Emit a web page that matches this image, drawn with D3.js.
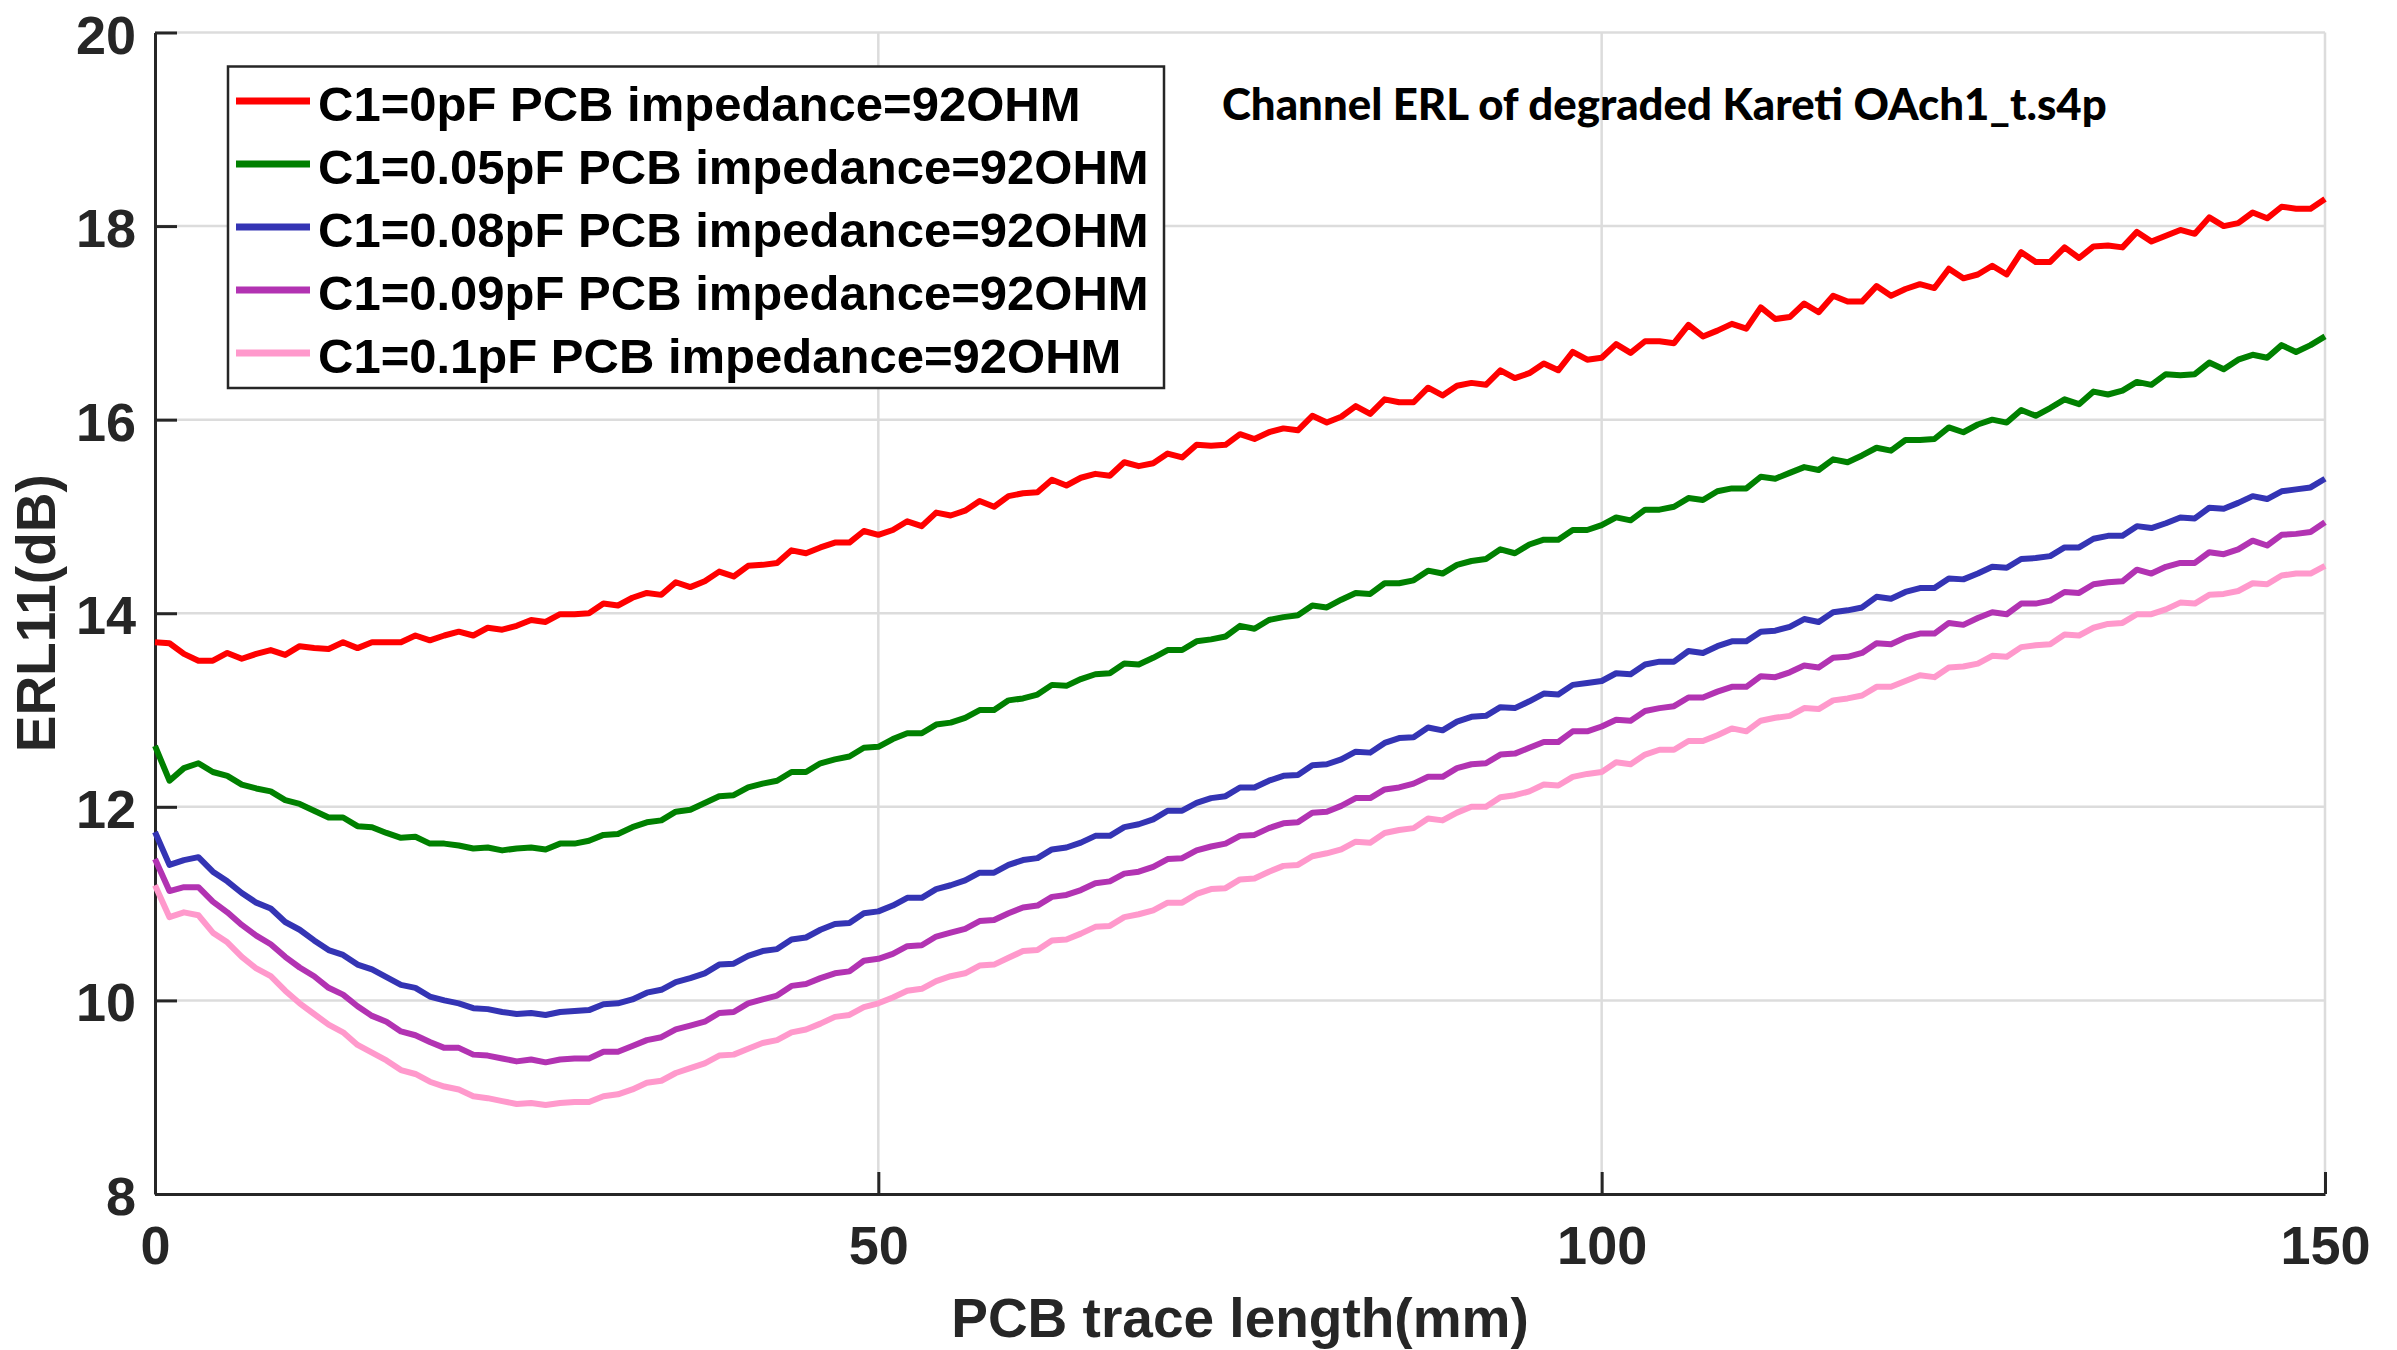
<!DOCTYPE html>
<html>
<head>
<meta charset="utf-8">
<script src="https://cdn.jsdelivr.net/npm/d3@7"></script>
<style>
  html, body { margin: 0; padding: 0; background: #fff; }
  svg { display: block; }
  text { font-family: "Liberation Sans", Arial, Helvetica, sans-serif; font-weight: bold; }
</style>
</head>
<body>
<div id="chart"></div>
<script>
// x values: trace length in mm, one sample per mm
var traceLength = d3.range(0, 151);

// ERL11 (dB), index = mm
var erlC0 = [
  13.70, 13.69, 13.58, 13.51, 13.51, 13.59, 13.53, 13.58, 13.62, 13.57,
  13.66, 13.64, 13.63, 13.70, 13.64, 13.70, 13.70, 13.70, 13.77, 13.72,
  13.77, 13.81, 13.77, 13.85, 13.83, 13.87, 13.93, 13.91, 13.99, 13.99,
  14.00, 14.10, 14.08, 14.16, 14.21, 14.19, 14.32, 14.27, 14.33, 14.43,
  14.38, 14.49, 14.50, 14.52, 14.65, 14.62, 14.68, 14.73, 14.73, 14.85,
  14.81, 14.86, 14.95, 14.90, 15.04, 15.01, 15.06, 15.16, 15.10, 15.21,
  15.24, 15.25, 15.38, 15.32, 15.40, 15.44, 15.42, 15.56, 15.52, 15.55,
  15.65, 15.61, 15.74, 15.73, 15.74, 15.85, 15.80, 15.87, 15.91, 15.89,
  16.04, 15.97, 16.03, 16.14, 16.06, 16.21, 16.18, 16.18, 16.33, 16.25,
  16.35, 16.38, 16.36, 16.51, 16.43, 16.48, 16.58, 16.51, 16.70, 16.62,
  16.64, 16.78, 16.69, 16.81, 16.81, 16.79, 16.98, 16.86, 16.92, 16.99,
  16.94, 17.16, 17.04, 17.06, 17.20, 17.11, 17.28, 17.22, 17.22, 17.38,
  17.28, 17.35, 17.40, 17.36, 17.56, 17.46, 17.50, 17.59, 17.50, 17.73,
  17.63, 17.63, 17.78, 17.67, 17.79, 17.80, 17.78, 17.94, 17.84, 17.90,
  17.96, 17.92, 18.09, 18.00, 18.03, 18.14, 18.08, 18.20, 18.18, 18.18, 18.28
];
var erlC005 = [
  12.63, 12.27, 12.40, 12.45, 12.36, 12.32, 12.23, 12.19, 12.16, 12.07,
  12.03, 11.96, 11.89, 11.89, 11.80, 11.79, 11.73, 11.68, 11.69, 11.62,
  11.62, 11.60, 11.57, 11.58, 11.55, 11.57, 11.58, 11.56, 11.62, 11.62,
  11.65, 11.71, 11.72, 11.79, 11.84, 11.86, 11.95, 11.97, 12.04, 12.11,
  12.12, 12.20, 12.24, 12.27, 12.36, 12.36, 12.45, 12.49, 12.52, 12.61,
  12.62, 12.70, 12.76, 12.76, 12.85, 12.87, 12.92, 13.00, 13.00, 13.10,
  13.12, 13.16, 13.26, 13.25, 13.32, 13.37, 13.38, 13.48, 13.47, 13.54,
  13.62, 13.62, 13.71, 13.73, 13.76, 13.87, 13.84, 13.93, 13.96, 13.98,
  14.08, 14.06, 14.14, 14.21, 14.20, 14.31, 14.31, 14.34, 14.44, 14.41,
  14.50, 14.54, 14.56, 14.66, 14.62, 14.71, 14.76, 14.76, 14.86, 14.86,
  14.91, 14.99, 14.96, 15.07, 15.07, 15.10, 15.19, 15.17, 15.26, 15.29,
  15.29, 15.41, 15.39, 15.45, 15.51, 15.48, 15.59, 15.56, 15.63, 15.71,
  15.68, 15.79, 15.79, 15.80, 15.92, 15.87, 15.95, 16.00, 15.97, 16.10,
  16.04, 16.12, 16.21, 16.16, 16.29, 16.26, 16.30, 16.39, 16.36, 16.47,
  16.46, 16.47, 16.59, 16.52, 16.62, 16.67, 16.64, 16.77, 16.70, 16.77, 16.86
];
var erlC008 = [
  11.74, 11.40, 11.45, 11.48, 11.33, 11.23, 11.11, 11.01, 10.95, 10.81,
  10.73, 10.62, 10.52, 10.47, 10.37, 10.32, 10.24, 10.16, 10.13, 10.04,
  10.00, 9.97, 9.92, 9.91, 9.88, 9.86, 9.87, 9.85, 9.88, 9.89,
  9.90, 9.96, 9.97, 10.01, 10.08, 10.11, 10.19, 10.23, 10.28, 10.37,
  10.38, 10.46, 10.51, 10.53, 10.63, 10.65, 10.73, 10.79, 10.80, 10.90,
  10.92, 10.98, 11.06, 11.06, 11.15, 11.19, 11.24, 11.32, 11.32, 11.40,
  11.45, 11.47, 11.56, 11.58, 11.63, 11.70, 11.70, 11.79, 11.82, 11.87,
  11.96, 11.96, 12.04, 12.09, 12.11, 12.20, 12.20, 12.27, 12.32, 12.33,
  12.43, 12.44, 12.49, 12.57, 12.56, 12.66, 12.71, 12.72, 12.82, 12.79,
  12.88, 12.93, 12.94, 13.03, 13.02, 13.09, 13.17, 13.16, 13.26, 13.28,
  13.30, 13.38, 13.37, 13.47, 13.50, 13.50, 13.61, 13.59, 13.66, 13.71,
  13.71, 13.81, 13.82, 13.86, 13.94, 13.91, 14.01, 14.03, 14.06, 14.17,
  14.15, 14.22, 14.26, 14.26, 14.36, 14.35, 14.41, 14.48, 14.47, 14.56,
  14.57, 14.59, 14.68, 14.68, 14.77, 14.80, 14.80, 14.90, 14.88, 14.93,
  14.99, 14.98, 15.09, 15.08, 15.14, 15.21, 15.18, 15.26, 15.28, 15.30, 15.39
];
var erlC009 = [
  11.46, 11.13, 11.17, 11.17, 11.02, 10.91, 10.78, 10.67, 10.58, 10.45,
  10.34, 10.25, 10.13, 10.06, 9.94, 9.84, 9.78, 9.68, 9.64, 9.57,
  9.51, 9.51, 9.44, 9.43, 9.40, 9.37, 9.39, 9.36, 9.39, 9.40,
  9.40, 9.47, 9.47, 9.53, 9.59, 9.62, 9.70, 9.74, 9.78, 9.87,
  9.88, 9.97, 10.01, 10.05, 10.15, 10.17, 10.23, 10.28, 10.30, 10.41,
  10.43, 10.48, 10.56, 10.57, 10.66, 10.70, 10.74, 10.82, 10.83, 10.90,
  10.96, 10.98, 11.07, 11.09, 11.14, 11.21, 11.23, 11.31, 11.33, 11.38,
  11.46, 11.47, 11.55, 11.59, 11.62, 11.70, 11.71, 11.78, 11.83, 11.84,
  11.94, 11.95, 12.01, 12.09, 12.09, 12.18, 12.20, 12.24, 12.31, 12.31,
  12.40, 12.44, 12.45, 12.54, 12.55, 12.61, 12.67, 12.67, 12.78, 12.78,
  12.83, 12.90, 12.89, 12.99, 13.02, 13.04, 13.13, 13.13, 13.19, 13.24,
  13.24, 13.35, 13.34, 13.39, 13.46, 13.44, 13.54, 13.55, 13.59, 13.69,
  13.68, 13.75, 13.79, 13.79, 13.90, 13.88, 13.95, 14.01, 13.99, 14.10,
  14.10, 14.13, 14.22, 14.21, 14.30, 14.32, 14.33, 14.45, 14.41, 14.48,
  14.52, 14.52, 14.63, 14.61, 14.66, 14.75, 14.70, 14.81, 14.82, 14.84, 14.94
];
var erlC01 = [
  11.19, 10.86, 10.91, 10.88, 10.70, 10.60, 10.45, 10.33, 10.25, 10.10,
  9.97, 9.86, 9.75, 9.67, 9.54, 9.46, 9.38, 9.28, 9.24, 9.16,
  9.11, 9.08, 9.01, 8.99, 8.96, 8.93, 8.94, 8.92, 8.94, 8.95,
  8.95, 9.01, 9.03, 9.08, 9.15, 9.17, 9.25, 9.30, 9.35, 9.43,
  9.44, 9.50, 9.56, 9.59, 9.67, 9.70, 9.76, 9.83, 9.85, 9.93,
  9.97, 10.03, 10.10, 10.12, 10.20, 10.25, 10.28, 10.36, 10.37, 10.44,
  10.51, 10.52, 10.62, 10.63, 10.69, 10.76, 10.77, 10.86, 10.89, 10.93,
  11.01, 11.01, 11.10, 11.15, 11.16, 11.25, 11.26, 11.33, 11.39, 11.40,
  11.49, 11.52, 11.56, 11.64, 11.63, 11.73, 11.76, 11.78, 11.88, 11.86,
  11.94, 12.00, 12.00, 12.10, 12.12, 12.16, 12.23, 12.22, 12.31, 12.34,
  12.36, 12.46, 12.44, 12.54, 12.59, 12.59, 12.68, 12.68, 12.74, 12.81,
  12.78, 12.89, 12.92, 12.94, 13.02, 13.01, 13.10, 13.12, 13.15, 13.24,
  13.24, 13.30, 13.36, 13.34, 13.44, 13.45, 13.48, 13.56, 13.55, 13.65,
  13.67, 13.68, 13.78, 13.77, 13.85, 13.89, 13.90, 13.99, 13.99, 14.04,
  14.11, 14.10, 14.19, 14.20, 14.23, 14.31, 14.30, 14.39, 14.41, 14.41, 14.49
];

var seriesNames = [
  "C1=0pF PCB impedance=92OHM",
  "C1=0.05pF PCB impedance=92OHM",
  "C1=0.08pF PCB impedance=92OHM",
  "C1=0.09pF PCB impedance=92OHM",
  "C1=0.1pF PCB impedance=92OHM"
];
var seriesValues = [erlC0, erlC005, erlC008, erlC009, erlC01];

var xTicks = [0, 50, 100, 150];
var yTicks = [8, 10, 12, 14, 16, 18, 20];
var chartTitle = "Channel ERL of degraded Kareti OAch1_t.s4p";
var xLabel = "PCB trace length(mm)";
var yLabel = "ERL11(dB)";

// line colours
var colors = ["#ff0000", "#008000", "#3434b4", "#b233b2", "#ff99cc"];

var width = 2397;
var height = 1350;
// plot box (note: "top" is a reserved window global, so use other names)
var plotLeft = 155, plotRight = 2325, plotTop = 32.5, plotBottom = 1194;

var svg = d3.select("#chart").append("svg").attr("width", width).attr("height", height);
svg.append("rect").attr("width", width).attr("height", height).attr("fill", "#fff");

var x = d3.scaleLinear().domain([0, 150]).range([plotLeft, plotRight]);
var y = d3.scaleLinear().domain([8, 20]).range([plotBottom, plotTop]);

// grid
svg.append("g").selectAll("line").data(xTicks.filter(function(d) { return d > 0; })).enter().append("line")
  .attr("x1", function(d) { return x(d); }).attr("x2", function(d) { return x(d); })
  .attr("y1", plotTop).attr("y2", plotBottom)
  .attr("stroke", "#dcdcdc").attr("stroke-width", 2.5);
svg.append("g").selectAll("line").data(yTicks.filter(function(d) { return d > 8; })).enter().append("line")
  .attr("x1", plotLeft).attr("x2", plotRight)
  .attr("y1", function(d) { return y(d); }).attr("y2", function(d) { return y(d); })
  .attr("stroke", "#dcdcdc").attr("stroke-width", 2.5);

// axes, ticks pointing inward
var xAxis = d3.axisBottom(x).tickValues(xTicks).tickFormat(d3.format("d")).tickSizeInner(-22).tickSizeOuter(0).tickPadding(32);
var yAxis = d3.axisLeft(y).tickValues(yTicks).tickFormat(d3.format("d")).tickSizeInner(-22).tickSizeOuter(0).tickPadding(19);

var gx = svg.append("g").attr("transform", "translate(0," + plotBottom + ")").call(xAxis);
var gy = svg.append("g").attr("transform", "translate(" + plotLeft + ",0)").call(yAxis);

[gx, gy].forEach(function(g) {
  g.select(".domain").attr("stroke", "#262626").attr("stroke-width", 3);
  g.selectAll(".tick line").attr("stroke", "#262626").attr("stroke-width", 3);
  g.selectAll(".tick text")
    .attr("fill", "#262626")
    .style("font-family", "'Liberation Sans', Arial, sans-serif")
    .style("font-weight", "bold")
    .style("font-size", "54px");
});
gy.selectAll(".tick text").attr("dy", "0.38em");

// curves
var line = d3.line()
  .x(function(d, i) { return x(traceLength[i]); })
  .y(function(d) { return y(d); });

svg.append("g").selectAll("path").data(seriesValues).enter().append("path")
  .attr("d", line)
  .attr("fill", "none")
  .attr("stroke", function(d, i) { return colors[i]; })
  .attr("stroke-width", 6)
  .attr("stroke-linejoin", "round");

// axis labels
svg.append("text").attr("x", (plotLeft + plotRight) / 2).attr("y", 1337)
  .attr("text-anchor", "middle").attr("fill", "#262626").style("font-size", "55px").text(xLabel);
svg.append("text").attr("transform", "translate(55," + ((plotTop + plotBottom) / 2) + ") rotate(-90)")
  .attr("text-anchor", "middle").attr("fill", "#262626").style("font-size", "55px").text(yLabel);

// legend
var legend = svg.append("g");
legend.append("rect").attr("x", 228).attr("y", 66.5).attr("width", 936).attr("height", 321.5)
  .attr("fill", "#fff").attr("stroke", "#262626").attr("stroke-width", 2.5);
var rows = legend.selectAll("g.row").data(seriesNames).enter().append("g").attr("class", "row")
  .attr("transform", function(d, i) { return "translate(0," + (101 + i * 63) + ")"; });
rows.append("line").attr("x1", 236).attr("x2", 310).attr("y1", 0).attr("y2", 0)
  .attr("stroke", function(d, i) { return colors[i]; }).attr("stroke-width", 7);
rows.append("text").attr("x", 318).attr("y", 19.5).attr("fill", "#000")
  .style("font-size", "49px").text(function(d) { return d; });

// annotation text, sized to the width it takes in the original
var title = svg.append("text").attr("x", 1222).attr("y", 120).attr("fill", "#000")
  .style("font-family", "Lato, 'Open Sans', sans-serif").style("font-weight", "900").style("font-size", "40px").text(chartTitle);
var w = title.node().getComputedTextLength();
title.style("font-size", (40 * 885 / w) + "px");
</script>
</body>
</html>
